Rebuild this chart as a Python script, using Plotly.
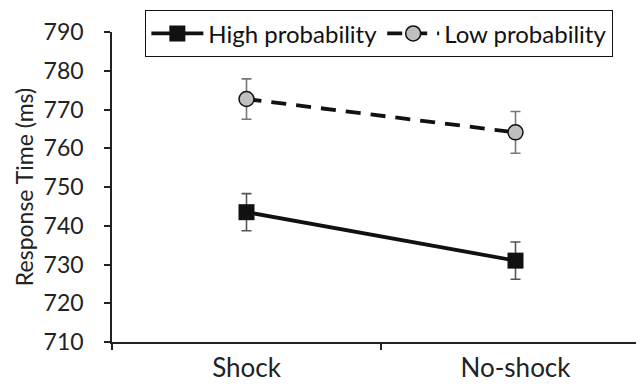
import plotly.graph_objects as go

categories = ["Shock", "No-shock"]
high_prob = [743.5, 731.0]
high_err = [4.8, 4.8]
low_prob = [772.7, 764.1]
low_err = [5.2, 5.4]
y_ticks = [710, 720, 730, 740, 750, 760, 770, 780, 790]

FONT = "Lato"

fig = go.Figure()
fig.add_trace(go.Scatter(
    x=categories, y=high_prob, name="High probability", mode="lines+markers",
    line=dict(color="#111111", width=3.8),
    marker=dict(symbol="square", size=16, color="#111111", line=dict(width=0)),
    error_y=dict(type="data", array=high_err, color="#555555", thickness=1.6, width=5),
))
fig.add_trace(go.Scatter(
    x=categories, y=low_prob, name="Low probability", mode="lines+markers",
    line=dict(color="#111111", width=3.8, dash="15px,10px"),
    marker=dict(symbol="circle", size=15, color="#bfbfbf", line=dict(width=1.5, color="#111111")),
    error_y=dict(type="data", array=low_err, color="#777777", thickness=1.6, width=5),
))

fig.update_layout(
    width=644, height=387,
    margin=dict(l=104, r=2, t=24, b=53, autoexpand=False),
    paper_bgcolor="white", plot_bgcolor="white",
    font=dict(family=FONT, color="#222222"),
    showlegend=True,
    legend=dict(
        orientation="h", x=0.062, xanchor="left", y=1.07, yanchor="top",
        bordercolor="#111111", borderwidth=1, bgcolor="white",
        font=dict(size=24, family=FONT, color="#111111"),
        itemwidth=52, tracegroupgap=0,
    ),
    xaxis=dict(
        type="category", range=[-0.5, 1.5], tickson="boundaries",
        showline=True, linecolor="#222222", linewidth=1.5,
        ticks="outside", ticklen=6, tickcolor="#222222", tickwidth=1.5,
        tickfont=dict(size=26, family=FONT), ticklabelstandoff=2,
        showgrid=False, zeroline=False, automargin=False,
    ),
    yaxis=dict(
        range=[710, 790], tickvals=y_ticks, ticktext=[str(v) for v in y_ticks],
        showline=True, linecolor="#222222", linewidth=1.5,
        ticks="outside", ticklen=6, tickcolor="#222222", tickwidth=1.5,
        tickfont=dict(size=23, family=FONT), ticklabelstandoff=16,
        showgrid=False, zeroline=False, automargin=False,
        title=dict(text="Response Time (ms)", font=dict(size=23, family=FONT), standoff=4),
    ),
)

fig.write_html("out.html")
